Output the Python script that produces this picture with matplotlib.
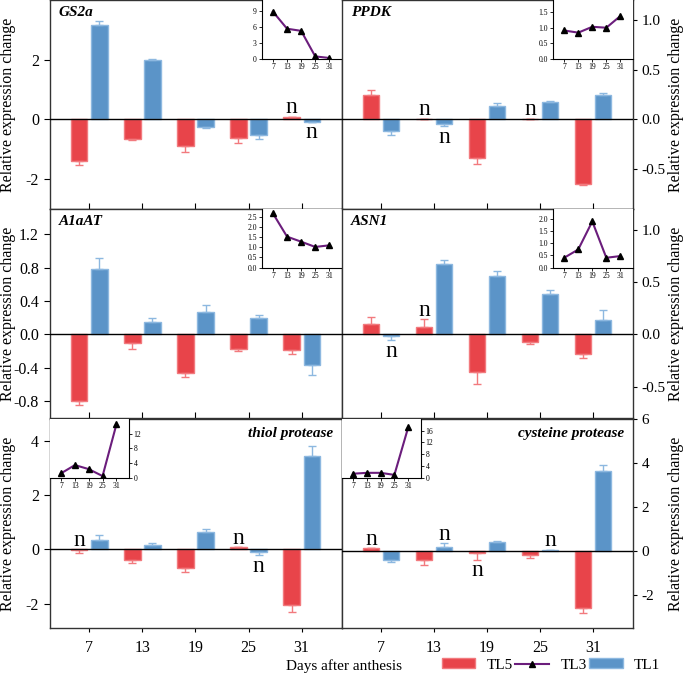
import numpy as np
import matplotlib
matplotlib.use('Agg')
import matplotlib.pyplot as plt
from matplotlib.lines import Line2D
from matplotlib.patches import Patch

plt.rcParams['font.family'] = ['Liberation Serif', 'DejaVu Serif']
plt.rcParams['axes.unicode_minus'] = False

# Дні після цвітіння
days = ['7', '13', '19', '25', '31']

# GS2a
gs2a_tl5 = [-1.39, -0.66, -0.89, -0.63, 0.09]
gs2a_tl5_err = [0.15, 0.03, 0.20, 0.17, 0.0]
gs2a_tl1 = [3.16, 1.98, -0.27, -0.52, -0.07]
gs2a_tl1_err = [0.15, 0.05, 0.02, 0.12, 0.0]
gs2a_tl3 = [8.8, 5.6, 5.2, 0.4, 0.1]

# PPDK
ppdk_tl5 = [0.25, 0.007, -0.39, 0.007, -0.65]
ppdk_tl5_err = [0.05, 0.0, 0.06, 0.0, 0.01]
ppdk_tl1 = [-0.115, -0.05, 0.135, 0.18, 0.245]
ppdk_tl1_err = [0.045, 0.017, 0.027, 0.01, 0.02]
ppdk_tl3 = [0.91, 0.84, 1.03, 1.0, 1.38]

# A1aAT
a1aat_tl5 = [-0.80, -0.107, -0.46, -0.18, -0.19]
a1aat_tl5_err = [0.044, 0.07, 0.05, 0.02, 0.05]
a1aat_tl1 = [0.785, 0.147, 0.267, 0.195, -0.37]
a1aat_tl1_err = [0.13, 0.05, 0.09, 0.036, 0.11]
a1aat_tl3 = [2.68, 1.53, 1.28, 1.02, 1.1]

# ASN1
asn1_tl5 = [0.10, 0.07, -0.36, -0.07, -0.19]
asn1_tl5_err = [0.07, 0.073, 0.11, 0.02, 0.04]
asn1_tl1 = [-0.013, 0.67, 0.557, 0.39, 0.134]
asn1_tl1_err = [0.04, 0.04, 0.054, 0.035, 0.095]
asn1_tl3 = [0.4, 0.74, 1.89, 0.4, 0.47]

# thiol protease
thiol_tl5 = [-0.03, -0.39, -0.69, 0.07, -2.05]
thiol_tl5_err = [0.11, 0.10, 0.15, 0.0, 0.25]
thiol_tl1 = [0.33, 0.16, 0.64, -0.09, 3.44]
thiol_tl1_err = [0.18, 0.06, 0.09, 0.13, 0.37]
thiol_tl3 = [1.15, 3.4, 2.3, 0.4, 14.5]

# cysteine protease
cys_tl5 = [0.12, -0.41, -0.09, -0.18, -2.6]
cys_tl5_err = [0.0, 0.23, 0.3, 0.14, 0.23]
cys_tl1 = [-0.39, 0.2, 0.42, 0.05, 3.62]
cys_tl1_err = [0.09, 0.15, 0.03, 0.0, 0.3]
cys_tl3 = [1.3, 1.6, 1.6, 0.9, 17.1]

# позначки "n": (індекс дня, серія, над/під)
gs2a_n = [(4, 'tl5', 'up'), (4, 'tl1', 'down')]
ppdk_n = [(1, 'tl5', 'up'), (1, 'tl1', 'down'), (3, 'tl5', 'up')]
a1aat_n = []
asn1_n = [(0, 'tl1', 'down'), (1, 'tl5', 'up')]
thiol_n = [(0, 'tl5', 'up'), (3, 'tl5', 'up'), (3, 'tl1', 'down')]
cys_n = [(0, 'tl5', 'up'), (1, 'tl1', 'up'), (2, 'tl5', 'down'), (3, 'tl1', 'up')]

RED = '#E8444A'
RED_EDGE = '#F27A7E'
BLUE = '#5B94C8'
BLUE_EDGE = '#8DB8E0'
PURPLE = '#6B1D7C'

panels = [
    dict(name='GS2a', tl5=gs2a_tl5, tl5e=gs2a_tl5_err, tl1=gs2a_tl1, tl1e=gs2a_tl1_err,
         tl3=gs2a_tl3, n=gs2a_n, ylim=(-3, 4), yt=[-2, 0, 2], fmt='%d',
         ins_ylim=(0, 11), ins_yt=[0, 3, 6, 9], ins_fmt='%d', ins_side='right', lab='left'),
    dict(name='PPDK', tl5=ppdk_tl5, tl5e=ppdk_tl5_err, tl1=ppdk_tl1, tl1e=ppdk_tl1_err,
         tl3=ppdk_tl3, n=ppdk_n, ylim=(-0.9, 1.2), yt=[-0.5, 0, 0.5, 1.0], fmt='%.1f',
         ins_ylim=(0, 1.9), ins_yt=[0, 0.5, 1.0, 1.5], ins_fmt='%.1f', ins_side='right', lab='left'),
    dict(name='A1aAT', tl5=a1aat_tl5, tl5e=a1aat_tl5_err, tl1=a1aat_tl1, tl1e=a1aat_tl1_err,
         tl3=a1aat_tl3, n=a1aat_n, ylim=(-1.0, 1.5), yt=[-0.8, -0.4, 0, 0.4, 0.8, 1.2], fmt='%.1f',
         ins_ylim=(0, 2.9), ins_yt=[0, 0.5, 1.0, 1.5, 2.0, 2.5], ins_fmt='%.1f', ins_side='right', lab='left'),
    dict(name='ASN1', tl5=asn1_tl5, tl5e=asn1_tl5_err, tl1=asn1_tl1, tl1e=asn1_tl1_err,
         tl3=asn1_tl3, n=asn1_n, ylim=(-0.8, 1.2), yt=[-0.5, 0, 0.5, 1.0], fmt='%.1f',
         ins_ylim=(0, 2.4), ins_yt=[0, 0.5, 1.0, 1.5, 2.0], ins_fmt='%.1f', ins_side='right', lab='left'),
    dict(name='thiol protease', tl5=thiol_tl5, tl5e=thiol_tl5_err, tl1=thiol_tl1, tl1e=thiol_tl1_err,
         tl3=thiol_tl3, n=thiol_n, ylim=(-2.9, 4.8), yt=[-2, 0, 2, 4], fmt='%d',
         ins_ylim=(0, 16), ins_yt=[0, 4, 8, 12], ins_fmt='%d', ins_side='left', lab='right'),
    dict(name='cysteine protease', tl5=cys_tl5, tl5e=cys_tl5_err, tl1=cys_tl1, tl1e=cys_tl1_err,
         tl3=cys_tl3, n=cys_n, ylim=(-3.5, 6), yt=[-2, 0, 2, 4, 6], fmt='%d',
         ins_ylim=(0, 20), ins_yt=[0, 4, 8, 12, 16], ins_fmt='%d', ins_side='left', lab='right'),
]

fig = plt.figure(figsize=(6.85, 6.74), dpi=100)

col_x = [50 / 685, 342 / 685]
col_w = [292 / 685, 291 / 685]
row_h = 209 / 674
row_y = [1 - 209 / 674, 1 - 418 / 674, 1 - 628 / 674]

x = np.arange(len(days))
off = 0.19
bw = 0.31

for i, p in enumerate(panels):
    row, col = divmod(i, 2)
    ax = fig.add_axes([col_x[col], row_y[row], col_w[col], row_h])
    for s in ax.spines.values():
        s.set_color('#333333')
        s.set_linewidth(1.0)

    tl5 = np.array(p['tl5'])
    tl1 = np.array(p['tl1'])
    e5 = np.array(p['tl5e'])
    e1 = np.array(p['tl1e'])
    # однобічні похибки в напрямку стовпчика
    yerr5 = [np.where(tl5 < 0, e5, 0), np.where(tl5 >= 0, e5, 0)]
    yerr1 = [np.where(tl1 < 0, e1, 0), np.where(tl1 >= 0, e1, 0)]
    ax.bar(x - off, tl5, bw, color=RED, edgecolor=RED_EDGE, linewidth=1,
           yerr=yerr5, error_kw=dict(ecolor=RED_EDGE, elinewidth=1, capsize=3, capthick=1))
    ax.bar(x + off, tl1, bw, color=BLUE, edgecolor=BLUE_EDGE, linewidth=1,
           yerr=yerr1, error_kw=dict(ecolor=BLUE_EDGE, elinewidth=1, capsize=3, capthick=1))
    ax.axhline(0, color='black', linewidth=1, zorder=3)

    # позначки "n"
    for k, ser, pos in p['n']:
        if ser == 'tl5':
            xv, v, e = x[k] - off, tl5[k], e5[k]
        else:
            xv, v, e = x[k] + off, tl1[k], e1[k]
        if pos == 'up':
            yv = max(v, 0) + (e if v > 0 else 0)
            ax.annotate('n', (xv, yv), xytext=(0, 2.5), textcoords='offset points',
                        ha='center', va='baseline', fontsize=17)
        else:
            yv = min(v, 0) - (e if v < 0 else 0)
            ax.annotate('n', (xv, yv), xytext=(0, -12), textcoords='offset points',
                        ha='center', va='baseline', fontsize=17)

    ax.set_xlim(-0.74, 4.76)
    ax.set_ylim(*p['ylim'])
    ax.set_yticks(p['yt'])
    ax.set_yticklabels([p['fmt'] % v for v in p['yt']])
    ax.set_xticks(x)
    if row == 2:
        ax.set_xticklabels(days)
        ax.tick_params(axis='x', direction='out', length=3, pad=6, labelsize=11.5)
    else:
        ax.tick_params(axis='x', direction='in', length=4, labelbottom=False)
    if col == 0:
        ax.tick_params(axis='y', direction='out', length=4, pad=4, labelsize=11.5,
                       right=True, labelright=False)
        ax.set_ylabel('Relative expression change', fontsize=11.5)
        ax.yaxis.set_label_coords(-0.116, 0.5)
    else:
        ax.yaxis.tick_right()
        ax.tick_params(axis='y', direction='out', length=3, pad=3, labelsize=11)
        ax.yaxis.set_label_position('right')
        ax.set_ylabel('Relative expression change', fontsize=11.5)
        ax.yaxis.set_label_coords(1.12, 0.5)

    if p['lab'] == 'left':
        ax.text(0.03, 0.94, p['name'], transform=ax.transAxes, fontsize=11,
                fontweight='bold', fontstyle='italic', ha='left', va='center')
    else:
        ax.text(0.97, 0.93, p['name'], transform=ax.transAxes, fontsize=11,
                fontweight='bold', fontstyle='italic', ha='right', va='center')

    # вставка з TL3
    if p['ins_side'] == 'right':
        ins = ax.inset_axes([0.725, 0.72, 0.275, 0.28])
        ins.spines['top'].set_visible(False)
        ins.spines['right'].set_visible(False)
    else:
        ins = ax.inset_axes([0.0, 0.72, 0.27, 0.28])
        ins.spines['top'].set_visible(False)
        ins.spines['left'].set_visible(False)
        ins.yaxis.tick_right()
    for s in ins.spines.values():
        s.set_linewidth(0.8)
    ins.plot(x, p['tl3'], color=PURPLE, linewidth=1.5, marker='^',
             markersize=4, markerfacecolor='black', markeredgecolor='black')
    ins.set_xlim(-0.8, 4.9)
    ins.set_ylim(*p['ins_ylim'])
    ins.set_xticks(x)
    ins.set_xticklabels(days)
    ins.set_yticks(p['ins_yt'])
    ins.set_yticklabels([p['ins_fmt'] % v for v in p['ins_yt']])
    ins.tick_params(direction='out', length=2, width=0.6, labelsize=5.5, pad=1.5)

fig.text(344 / 685, 1 - 666 / 674, 'Days after anthesis', ha='center', va='center', fontsize=11)

handles = [
    Patch(facecolor=RED, edgecolor=RED_EDGE),
    Line2D([0], [0], color=PURPLE, linewidth=1.5, marker='^', markersize=4,
           markerfacecolor='black', markeredgecolor='black'),
    Patch(facecolor=BLUE, edgecolor=BLUE_EDGE),
]
fig.legend(handles, ['TL5', 'TL3', 'TL1'], loc='center', ncol=3, frameon=False,
           bbox_to_anchor=(551 / 685, 1 - 665 / 674), fontsize=11,
           handlelength=2.2, handleheight=0.55, handletextpad=0.75, columnspacing=0.15,
           borderpad=0.1)

fig.savefig('out.png', dpi=100)
